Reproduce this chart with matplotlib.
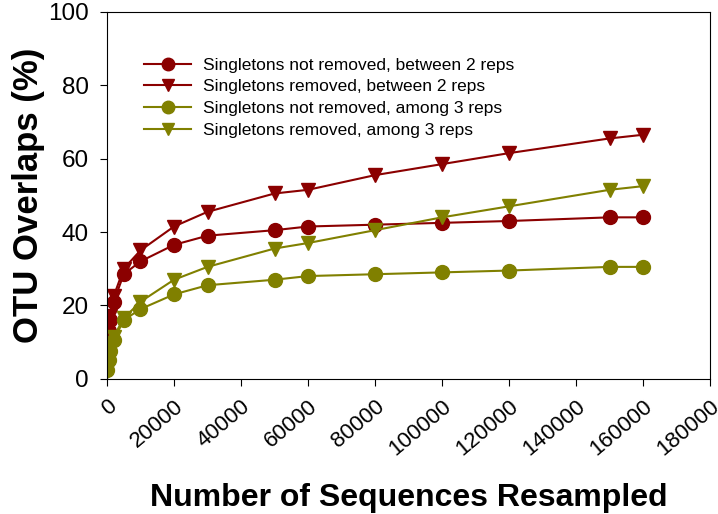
import numpy as np
import matplotlib
matplotlib.use("Agg")
import matplotlib.pyplot as plt

plt.rcParams['font.family'] = ['Liberation Sans', 'DejaVu Sans']

# sequences resampled
x = [100, 500, 1000, 2000, 5000, 10000, 20000, 30000, 50000, 60000,
     80000, 100000, 120000, 150000, 160000]

# OTU overlaps (%)
nr_2reps = [7.5, 13, 16, 21, 28.5, 32, 36.5, 39, 40.5, 41.5, 42, 42.5, 43, 44, 44]
rm_2reps = [8.5, 14, 17, 22.5, 30, 35, 41.5, 45.5, 50.5, 51.5, 55.5, 58.5, 61.5, 65.5, 66.5]
nr_3reps = [2.5, 5, 7.5, 10.5, 16, 19, 23, 25.5, 27, 28, 28.5, 29, 29.5, 30.5, 30.5]
rm_3reps = [2, 5.5, 8.5, 11.5, 16.5, 21, 27, 30.5, 35.5, 37, 40.5, 44, 47, 51.5, 52.5]

labels = ["Singletons not removed, between 2 reps",
          "Singletons removed, between 2 reps",
          "Singletons not removed, among 3 reps",
          "Singletons removed, among 3 reps"]

red = "#8b0000"
olive = "#808000"

fig = plt.figure(figsize=(7.18, 5.14), dpi=100)
ax = fig.add_axes([0.149, 0.263, 0.840, 0.714])

ax.plot(x, nr_2reps, color=red, marker='o', ms=10, lw=1.5, label=labels[0])
ax.plot(x, rm_2reps, color=red, marker='v', ms=10, lw=1.5, label=labels[1])
ax.plot(x, nr_3reps, color=olive, marker='o', ms=10, lw=1.5, label=labels[2])
ax.plot(x, rm_3reps, color=olive, marker='v', ms=10, lw=1.5, label=labels[3])

ax.set_xlim(0, 180000)
ax.set_ylim(0, 100)
ax.set_xticks(np.arange(0, 180001, 20000))
ax.set_yticks(np.arange(0, 101, 20))
ax.tick_params(axis='y', labelsize=17.5, direction='out', length=5, pad=8)
ax.tick_params(axis='x', labelsize=16, direction='out', length=5, pad=7)
for lab in ax.get_xticklabels():
    lab.set_rotation(40)
    lab.set_ha('right')
    lab.set_rotation_mode('anchor')

ax.set_ylabel("OTU Overlaps (%)", fontsize=25, fontweight='bold', labelpad=2)
ax.set_xlabel("Number of Sequences Resampled", fontsize=23, fontweight='bold', labelpad=17)

ax.legend(loc='upper left', bbox_to_anchor=(0.036, 0.918), frameon=False,
          fontsize=12.5, handlelength=2.7, labelspacing=0.38, markerscale=0.9,
          handletextpad=0.7)

fig.savefig("out.png", dpi=100)
